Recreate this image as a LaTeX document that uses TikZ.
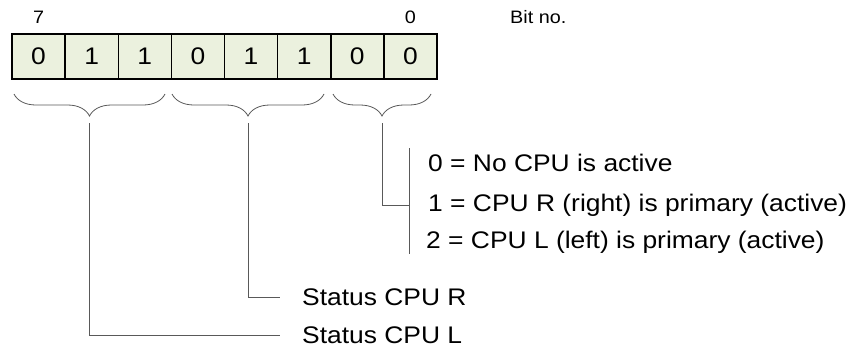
\documentclass[tikz,border=0pt]{standalone}
\usepackage{fontspec}
\setmainfont{Liberation Sans}[FakeStretch=1.1]
\usetikzlibrary{decorations.pathreplacing}
\definecolor{cellfill}{RGB}{235,241,222}
\definecolor{linegray}{RGB}{89,89,89}
\tikzset{
    bitcell/.style={draw=black, line width=1.5pt, fill=cellfill, minimum width=53.125pt, minimum height=45pt, inner sep=0pt, font=\fontsize{24}{29}\selectfont},
    bigtext/.style={font=\fontsize{24}{29}\selectfont, inner sep=0pt},
    smalltext/.style={font=\fontsize{18}{22}\selectfont, inner sep=0pt},
    bitbrace/.style={draw=linegray, line width=0.8pt, decorate, decoration={brace, mirror, amplitude=22pt}},
    conn/.style={draw=linegray, line width=0.8pt}
}
\begin{document}
\begin{tikzpicture}[x=1pt, y=-1pt]
        \useasboundingbox (0,0) rectangle (856,351);
        \foreach \val [count=\i from 0] in {0,1,1,0,1,1,0,0} {
            \pgfmathtruncatemacro{\bitno}{7-\i}
            \node[bitcell] at ({12+53.125*(\i+0.5)},56.5) (cell\bitno) {\val};
        }
        \node[smalltext] at (cell7.center |- 0,17) (hi) {7};
        \node[smalltext] at (cell0.center |- 0,17) (lo) {0};
        \node[smalltext, anchor=west] at (510,17) (bitno) {Bit no.};
        \draw[bitbrace] (14,94) -- (165,94);
        \draw[bitbrace] (172,94) -- (324,94);
        \draw[bitbrace] (333,94) -- (431,94);
        \coordinate (tipL) at (89,123);
        \coordinate (tipR) at (248,123);
        \coordinate (tipA) at (382,123);
        \coordinate (barTop) at (409,148);
        \coordinate (barBot) at (409,254);
        \node[bigtext, anchor=west] at (302,335) (stL) {Status CPU L};
        \node[bigtext, anchor=west] at (302,297) (stR) {Status CPU R};
        \node[bigtext, anchor=west] at (428,163) (act0) {0 = No CPU is active};
        \node[bigtext, anchor=west] at (428,205) (act1) {1 = CPU R (right) is primary (active)};
        \node[bigtext, anchor=west] at (426,242) (act2) {2 = CPU L (left) is primary (active)};
        \draw[conn] (tipL) |- ([xshift=-22pt]stL.west);
        \draw[conn] (tipR) |- ([xshift=-22pt]stR.west);
        \draw[conn] (tipA) |- (barTop |- act1.west);
        \draw[conn] (barTop) -- (barBot);
    \end{tikzpicture}
\end{document}
